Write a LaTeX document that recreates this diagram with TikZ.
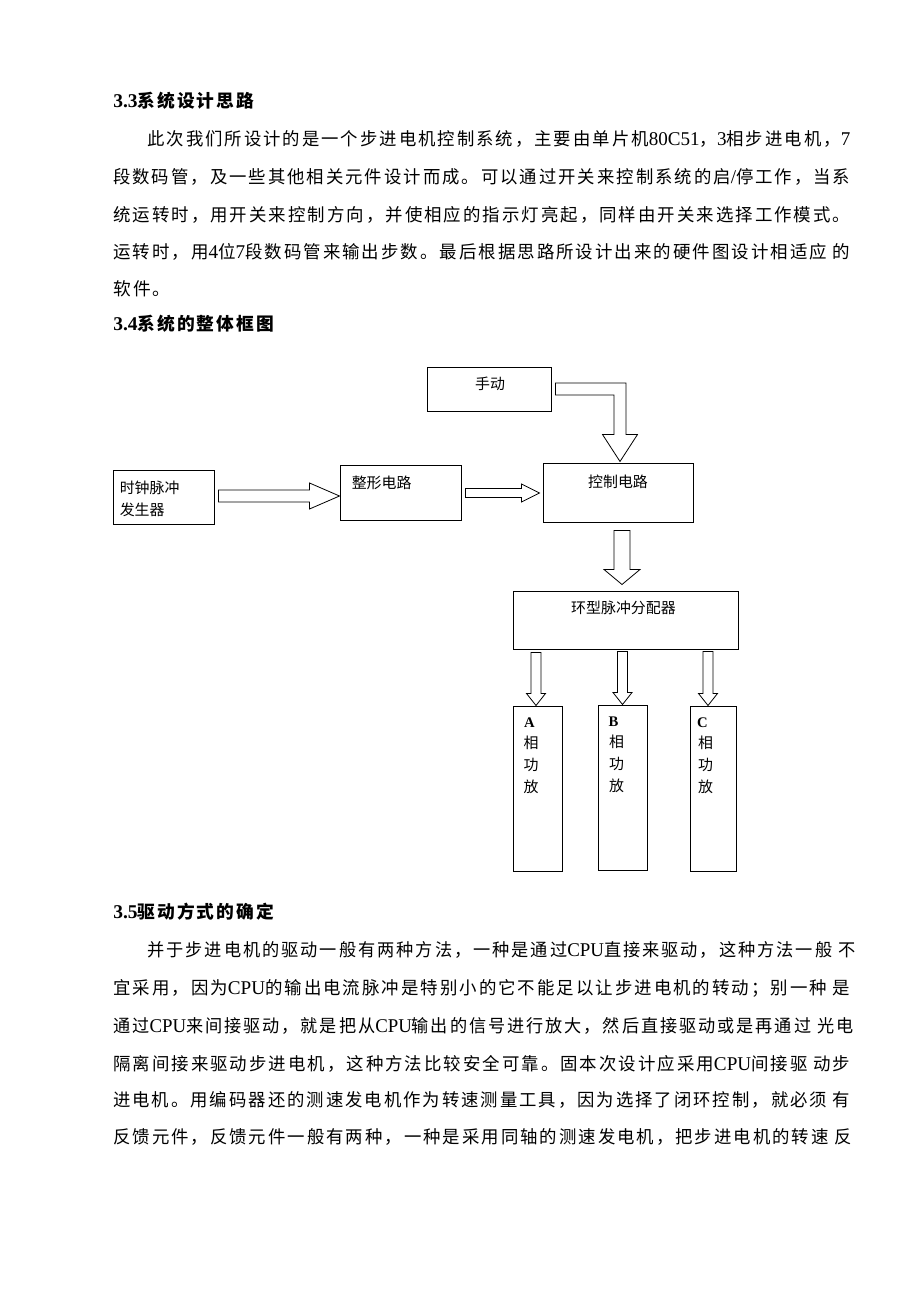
\documentclass[tikz,border=0pt]{standalone}
\usepackage{fontspec}
\usepackage{graphicx}
\setmainfont{Noto Sans CJK SC}
\newfontfamily\bodyfont[LetterSpace=11.5]{Noto Sans CJK SC}
\newfontfamily\boxfont{Noto Sans CJK SC}
\newfontfamily\latinfont{Liberation Serif}
\usetikzlibrary{calc}

\tikzset{
  box/.style={draw, line width=0.75pt, inner sep=0pt},
  boxtext/.style={inner sep=0pt, font=\boxfont\fontsize{11.2pt}{16.5pt}\selectfont},
  phase/.style={inner sep=0pt, font=\latinfont\bfseries\fontsize{11pt}{12pt}\selectfont},
  bodyline/.style={anchor=west, inner sep=0pt, font=\bodyfont\fontsize{13.3pt}{16pt}\selectfont},
  headline/.style={anchor=west, inner sep=0pt, font=\bodyfont\bfseries\fontsize{13.3pt}{16pt}\selectfont},
  hollow/.style={draw, line width=0.6pt, fill=white, line join=miter},
}

\newcommand{\lt}[1]{{\latinfont\fontsize{14.6pt}{16pt}\selectfont #1}}
\newcommand{\fitline}[2]{\resizebox{#1}{\height}{#2}}
% #1 tail, #2 tip, #3 shaft half width, #4 head half width, #5 head length
\newcommand{\harrow}[5]{\draw[hollow] ($(#1)+(0,-#3)$) -- ($(#2)+(-#5,-#3)$) -- ($(#2)+(-#5,-#4)$) -- (#2) -- ($(#2)+(-#5,#4)$) -- ($(#2)+(-#5,#3)$) -- ($(#1)+(0,#3)$) -- cycle;}
\newcommand{\varrow}[5]{\draw[hollow] ($(#1)+(-#3,0)$) -- ($(#2)+(-#3,-#5)$) -- ($(#2)+(-#4,-#5)$) -- (#2) -- ($(#2)+(#4,-#5)$) -- ($(#2)+(#3,-#5)$) -- ($(#1)+(#3,0)$) -- cycle;}

\begin{document}
\begin{tikzpicture}[x=0.75pt,y=0.75pt,yscale=-1,xscale=1]
        \useasboundingbox[fill=white] (0,0) rectangle (920,1302);

        \node[headline] (h33) at (113,101) {{\latinfont\bfseries\fontsize{14.6pt}{16pt}\selectfont 3.3}系统设计思路};
        \node[bodyline] (p1) at (147,139) {\fitline{527.25pt}{此次我们所设计的是一个步进电机控制系统，主要由单片机\lt{80C51}，\lt{3}相步进电机，\lt{7}}};
        \node[bodyline] (p2) at (113,177) {\fitline{552.75pt}{段数码管，及一些其他相关元件设计而成。可以通过开关来控制系统的启\lt{/}停工作，当系}};
        \node[bodyline] (p3) at (113,215) {\fitline{552.75pt}{统运转时，用开关来控制方向，并使相应的指示灯亮起，同样由开关来选择工作模式。}};
        \node[bodyline] (p4) at (113,252) {\fitline{552.75pt}{运转时，用\lt{4}位\lt{7}段数码管来输出步数。最后根据思路所设计出来的硬件图设计相适应 的}};
        \node[bodyline] (p5) at (113,289) {软件。};
        \node[headline] (h34) at (113,324) {{\latinfont\bfseries\fontsize{14.6pt}{16pt}\selectfont 3.4}系统的整体框图};

        \node[box, minimum width=93pt, minimum height=33pt] (hand) at (489,389) {};
        \node[box, minimum width=75.75pt, minimum height=40.5pt] (clk) at (163.5,497) {};
        \node[box, minimum width=90.75pt, minimum height=41.25pt] (shape) at (400.5,492.5) {};
        \node[box, minimum width=112.5pt, minimum height=44.25pt] (ctrl) at (618,492.5) {};
        \node[box, minimum width=168.75pt, minimum height=43.5pt] (dist) at (625.5,620) {};
        \node[box, minimum width=36.75pt, minimum height=123.75pt] (pa) at (537.5,788.5) {};
        \node[box, minimum width=36.75pt, minimum height=123.75pt] (pb) at (622.5,787.5) {};
        \node[box, minimum width=34.5pt, minimum height=123.75pt] (pc) at (713,788.5) {};

        \node[boxtext] (handtxt) at ($(hand.north)+(1,17)$) {手动};
        \node[boxtext, anchor=west] (clktxt1) at ($(clk.north west)+(7,18)$) {时钟脉冲};
        \node[boxtext, anchor=west] (clktxt2) at ($(clk.north west)+(7,40)$) {发生器};
        \node[boxtext, anchor=west] (shapetxt) at ($(shape.north west)+(12,18)$) {整形电路};
        \node[boxtext] (ctrltxt) at ($(ctrl.north)+(0,19)$) {控制电路};
        \node[boxtext] (disttxt) at ($(dist.north)+(-2,17)$) {环型脉冲分配器};
        \node[phase] (palet) at ($(pa.north west)+(17,17)$) {A};
        \node[boxtext, align=center] (patxt) at ($(pa.north west)+(18.5,59)$) {相\\功\\放};
        \node[phase] (pblet) at ($(pb.north west)+(16,17)$) {B};
        \node[boxtext, align=center] (pbtxt) at ($(pb.north west)+(19,59)$) {相\\功\\放};
        \node[phase] (pclet) at ($(pc.north west)+(13,17)$) {C};
        \node[boxtext, align=center] (pctxt) at ($(pc.north west)+(16,59)$) {相\\功\\放};

        \coordinate (a1s) at ($(clk.east)+(4,-1)$);
        \coordinate (a1e) at (shape.west |- a1s);
        \harrow{a1s}{a1e}{6}{13}{30}
        \coordinate (a2s) at ($(shape.east)+(4,0.5)$);
        \coordinate (a2e) at ($(ctrl.west |- a2s)+(-3,0)$);
        \harrow{a2s}{a2e}{4.5}{9}{18}
        \coordinate (a3s) at ($(hand.east)+(4,0)$);
        \coordinate (a3e) at ($(ctrl.north)+(2,-1)$);
        \draw[hollow] ($(a3s)+(0,-6)$) -- ($(a3e |- a3s)+(6,-6)$) -- ($(a3e)+(6,-27)$) -- ($(a3e)+(17.5,-27)$) -- (a3e) -- ($(a3e)+(-17.5,-27)$) -- ($(a3e)+(-6,-27)$) -- ($(a3e |- a3s)+(-6,6)$) -- ($(a3s)+(0,6)$) -- cycle;
        \coordinate (a4s) at ($(ctrl.south)+(4,8)$);
        \coordinate (a4e) at ($(a4s |- dist.north)+(0,-6)$);
        \varrow{a4s}{a4e}{8}{18}{15}
        \coordinate (a5s) at ($(pa.north |- dist.south)+(-1.5,3)$);
        \coordinate (a5e) at (a5s |- pa.north);
        \varrow{a5s}{a5e}{5}{9.5}{12}
        \coordinate (a6s) at ($(pb.north |- dist.south)+(0,2)$);
        \coordinate (a6e) at (a6s |- pb.north);
        \varrow{a6s}{a6e}{5}{9.5}{12}
        \coordinate (a7s) at ($(pc.north |- dist.south)+(-5,2)$);
        \coordinate (a7e) at (a7s |- pc.north);
        \varrow{a7s}{a7e}{5}{9.5}{12}

        \node[headline] (h35) at (113,912) {{\latinfont\bfseries\fontsize{14.6pt}{16pt}\selectfont 3.5}驱动方式的确定};
        \node[bodyline] (q1) at (147,950) {\fitline{531pt}{并于步进电机的驱动一般有两种方法，一种是通过\lt{CPU}直接来驱动，这种方法一般 不}};
        \node[bodyline] (q2) at (113,988) {\fitline{552.75pt}{宜采用，因为\lt{CPU}的输出电流脉冲是特别小的它不能足以让步进电机的转动；别一种 是}};
        \node[bodyline] (q3) at (113,1026) {\fitline{555pt}{通过\lt{CPU}来间接驱动，就是把从\lt{CPU}输出的信号进行放大，然后直接驱动或是再通过 光电}};
        \node[bodyline] (q4) at (113,1064) {\fitline{552.75pt}{隔离间接来驱动步进电机，这种方法比较安全可靠。固本次设计应采用\lt{CPU}间接驱 动步}};
        \node[bodyline] (q5) at (113,1100) {\fitline{552.75pt}{进电机。用编码器还的测速发电机作为转速测量工具，因为选择了闭环控制，就必须 有}};
        \node[bodyline] (q6) at (113,1137) {\fitline{554pt}{反馈元件，反馈元件一般有两种，一种是采用同轴的测速发电机，把步进电机的转速 反}};
\end{tikzpicture}
\end{document}
